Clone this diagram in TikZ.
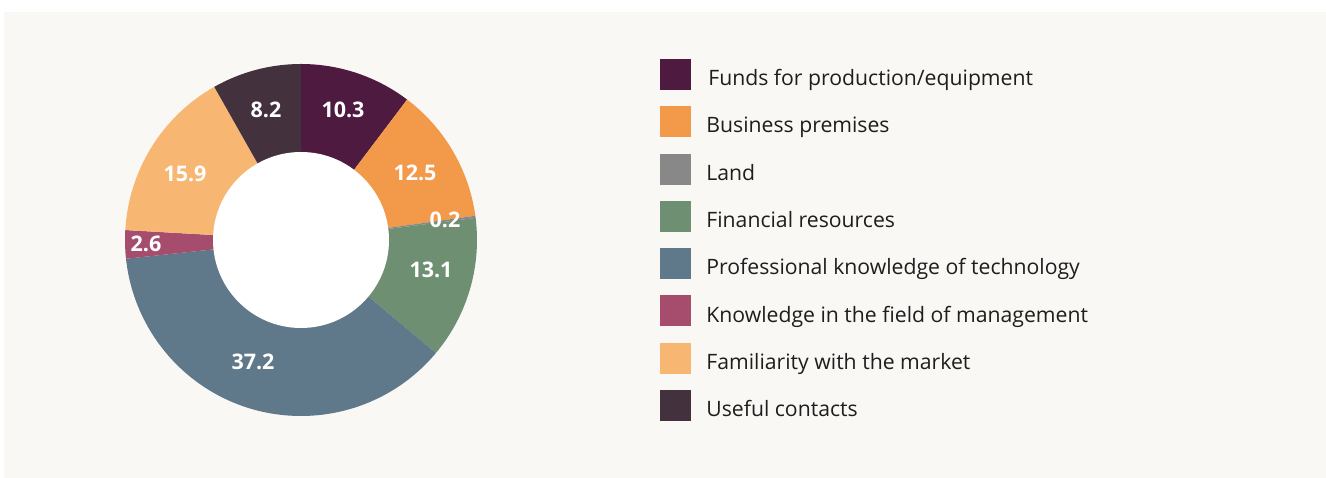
\documentclass[tikz,border=0pt]{standalone}
\usepackage{fontspec}
\setmainfont{Open Sans}
\usepackage{tikz}
\usetikzlibrary{positioning}
\pgfdeclarelayer{bglayer}
\pgfsetlayers{bglayer,main}

\definecolor{panelbg}{HTML}{F9F8F5}
\definecolor{funds}{HTML}{4E1A3F}
\definecolor{premises}{HTML}{F2994A}
\definecolor{land}{HTML}{888888}
\definecolor{finance}{HTML}{6F8F72}
\definecolor{techknow}{HTML}{5F788A}
\definecolor{mgmt}{HTML}{A64D6E}
\definecolor{market}{HTML}{F7B772}
\definecolor{contacts}{HTML}{43313D}
\definecolor{keyink}{HTML}{1E1E1E}

\tikzset{
    val/.style={text=white, inner sep=0pt, font=\fontsize{21.5}{25}\selectfont\bfseries},
    keybox/.style={minimum size=31pt, inner sep=0pt},
    keytext/.style={anchor=base west, inner sep=0pt, text=keyink, font=\fontsize{21.2}{25}\selectfont},
}

\begin{document}
\begin{tikzpicture}[x=1pt, y=1pt]
        \useasboundingbox (0, 0) rectangle (1326, 478);
        \begin{pgfonlayer}{bglayer}
            \fill [panelbg] (4, 0) rectangle (1326, 466);
        \end{pgfonlayer}
        % ring
        \coordinate (c) at (301, 238);
        \fill [funds] (c) -- ++(90:176) arc [start angle=90, end angle=52.92, radius=176] -- cycle;
        \fill [premises] (c) -- ++(52.92:176) arc [start angle=52.92, end angle=7.92, radius=176] -- cycle;
        \fill [land] (c) -- ++(7.92:176) arc [start angle=7.92, end angle=7.2, radius=176] -- cycle;
        \fill [finance] (c) -- ++(7.2:176) arc [start angle=7.2, end angle=-39.96, radius=176] -- cycle;
        \fill [techknow] (c) -- ++(-39.96:176) arc [start angle=-39.96, end angle=-173.88, radius=176] -- cycle;
        \fill [mgmt] (c) -- ++(-173.88:176) arc [start angle=-173.88, end angle=-183.24, radius=176] -- cycle;
        \fill [market] (c) -- ++(-183.24:176) arc [start angle=-183.24, end angle=-240.48, radius=176] -- cycle;
        \fill [contacts] (c) -- ++(-240.48:176) arc [start angle=-240.48, end angle=-270, radius=176] -- cycle;
        \node [circle, fill=white, inner sep=0pt, minimum size=176pt] (hole) at (c) {};
        % values
        \node [val] (v0) at (343, 368) {10.3};
        \node [val] (v1) at (415, 305) {12.5};
        \node [val] (v2) at (445, 258) {0.2};
        \node [val] (v3) at (431, 208) {13.1};
        \node [val] (v4) at (253, 116) {37.2};
        \node [val] (v5) at (146, 234) {2.6};
        \node [val] (v6) at (185, 304) {15.9};
        \node [val] (v7) at (266, 368) {8.2};
        % legend
        \node [keybox, fill=funds] (k0) at (675.5, 403.5) {};
        \node [keybox, fill=premises] (k1) at (675.5, 356.2) {};
        \node [keybox, fill=land] (k2) at (675.5, 308.9) {};
        \node [keybox, fill=finance] (k3) at (675.5, 261.6) {};
        \node [keybox, fill=techknow] (k4) at (675.5, 214.3) {};
        \node [keybox, fill=mgmt] (k5) at (675.5, 167.0) {};
        \node [keybox, fill=market] (k6) at (675.5, 119.7) {};
        \node [keybox, fill=contacts] (k7) at (675.5, 72.4) {};
        \node [keytext] (t0) at ([xshift=17pt, yshift=-11.2pt]k0.east) {Funds for production/equipment};
        \node [keytext] (t1) at ([xshift=15pt, yshift=-11.2pt]k1.east) {Business premises};
        \node [keytext] (t2) at ([xshift=15pt, yshift=-11.2pt]k2.east) {Land};
        \node [keytext] (t3) at ([xshift=15pt, yshift=-11.2pt]k3.east) {Financial resources};
        \node [keytext] (t4) at ([xshift=15pt, yshift=-11.2pt]k4.east) {Professional knowledge of technology};
        \node [keytext] (t5) at ([xshift=15pt, yshift=-11.2pt]k5.east) {Knowledge in the field of management};
        \node [keytext] (t6) at ([xshift=15pt, yshift=-11.2pt]k6.east) {Familiarity with the market};
        \node [keytext] (t7) at ([xshift=15pt, yshift=-11.2pt]k7.east) {Useful contacts};
\end{tikzpicture}
\end{document}
